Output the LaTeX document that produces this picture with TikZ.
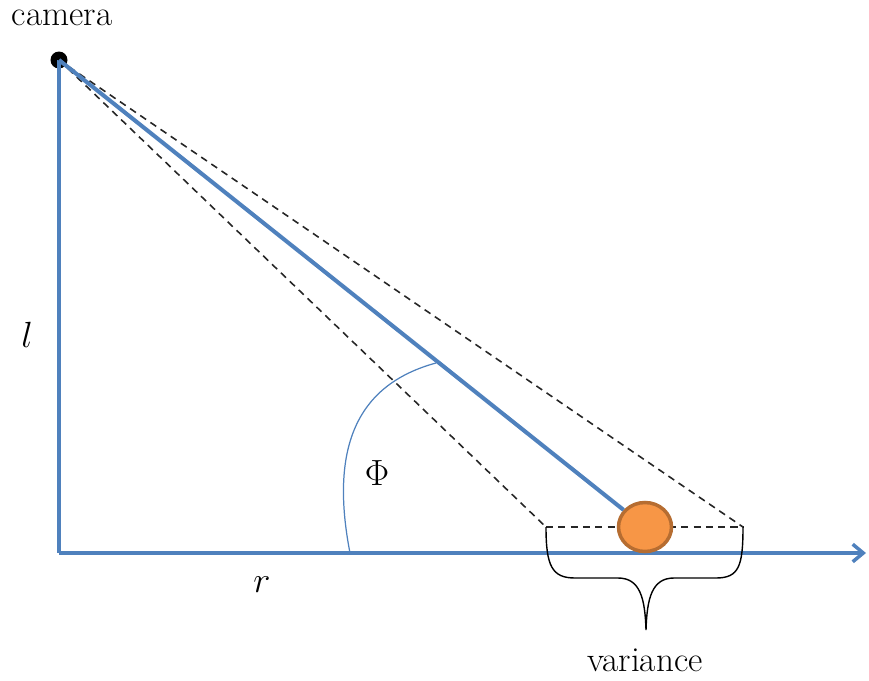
\documentclass[tikz,border=0pt]{standalone}
\usepackage{amsmath}
\usepackage{tikz}
\usetikzlibrary{positioning, shapes.geometric, arrows.meta, calc}
\usepackage{xcolor}
\definecolor{axisblue}{HTML}{4F81BD}
\definecolor{ballfill}{HTML}{F79646}
\definecolor{balledge}{HTML}{B66D31}
\definecolor{dashgrey}{HTML}{262626}
\tikzset{
  % thick blue axis / sight line
  axisline/.style={axisblue, line width=2.3pt},
  % thin dashed viewing cone
  coneline/.style={dashgrey, dashed, dash pattern=on 4pt off 3pt, line width=0.9pt},
  % ball on the ground
  ballnode/.style={ellipse, fill=ballfill, draw=balledge, line width=2pt,
                   inner sep=0pt, minimum width=53*0.02cm, minimum height=49*0.02cm},
  % plain text label
  lbl/.style={font=\fontsize{20}{24}\selectfont, inner sep=1pt},
}
\begin{document}
\begin{tikzpicture}[x=0.02cm, y=-0.02cm]
  \useasboundingbox (0,0) rectangle (869,680);
  % frame points
  \coordinate (origin) at (59,553);
  \coordinate (xend)   at (866,553);
  \coordinate (vl)     at (546,527);
  \coordinate (vr)     at (743,527);
  \node[circle, fill=black, inner sep=0pt, minimum size=17*0.02cm] (camera) at (59,60) {};
  % axes
  \draw[axisline] (camera.center) -- (origin);
  \draw[axisline, -{Straight Barb[length=6pt, width=10pt, line width=2pt]}] (origin) -- (xend);
  % viewing cone
  \draw[coneline] (camera.center) -- (vl);
  \draw[coneline] (camera.center) -- (vr);
  \draw[coneline] (vl) -- (vr);
  % sight line and ball
  \node[ballnode] (ball) at (645,527) {};
  \draw[axisline] (camera.center) -- (ball);
  % angle arc
  \coordinate (arcend) at (436,363);
  \draw[axisblue, line width=0.7pt] (350,553) .. controls (330,450) and (355,385) .. (arcend);
  % brace under the cone
  \draw[black, line width=0.8pt]
    (vl) .. controls (546,566) and (552,578) .. (575,578) -- (618,578)
    .. controls (640,578) and (645,598) .. (646,630)
    .. controls (647,598) and (652,578) .. (674,578) -- (716,578)
    .. controls (739,578) and (743,566) .. (vr);
  % labels
  \node[lbl] (camlbl) at (62,18) {camera};
  \node[lbl] (llbl)   at (27,335) {$l$};
  \node[lbl] (rlbl)   at (262,585) {$r$};
  \node[lbl] (philbl) at (377,473) {$\Phi$};
  \node[lbl] (varlbl) at (645,660) {variance};
\end{tikzpicture}
\end{document}
